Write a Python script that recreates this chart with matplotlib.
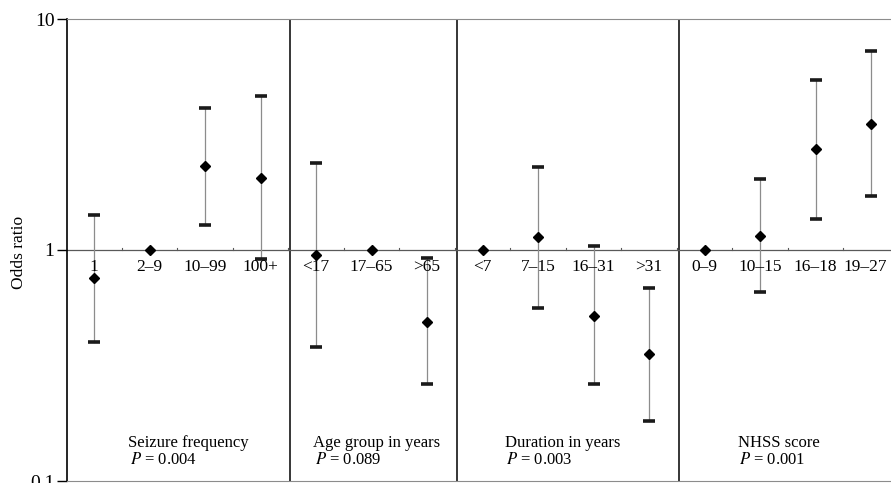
import numpy as np
import matplotlib
matplotlib.use("Agg")
import matplotlib.pyplot as plt

plt.rcParams['font.family'] = ['Liberation Serif', 'DejaVu Serif']
plt.rcParams['mathtext.fontset'] = 'stix'

# categories per group
groups = ["Seizure frequency", "Age group in years", "Duration in years", "NHSS score"]
p_values = ["0.004", "0.089", "0.003", "0.001"]
labels = [
    ["1", "2\u20139", "10\u201399", "100+"],
    ["<17", "17\u201365", ">65"],
    ["<7", "7\u201315", "16\u201331", ">31"],
    ["0\u20139", "10\u201315", "16\u201318", "19\u201327"],
]
# odds ratio and 95% CI (None = reference category)
odds = [
    [0.76, 1.0, 2.31, 2.05],
    [0.95, 1.0, 0.49],
    [1.0, 1.14, 0.52, 0.355],
    [1.0, 1.15, 2.74, 3.51],
]
lower = [
    [0.40, None, 1.28, 0.91],
    [0.38, None, 0.263],
    [None, 0.56, 0.263, 0.182],
    [None, 0.66, 1.36, 1.71],
]
upper = [
    [1.42, None, 4.12, 4.64],
    [2.38, None, 0.92],
    [None, 2.29, 1.04, 0.685],
    [None, 2.03, 5.44, 7.27],
]
# where the group caption starts, relative to the first category
title_off = [0.61, -0.05, 0.4, 0.6]

fig = plt.figure(figsize=(8.91, 4.83), dpi=100)
ax = fig.add_axes([67 / 891, 2 / 483, 1 - 67 / 891, 462 / 483])
ax.set_yscale('log')
ax.set_ylim(0.1, 10)
ax.set_xlim(-0.487, 14.36)

idx = 0
for g, labs in enumerate(labels):
    xs = np.arange(idx, idx + len(labs))
    for i, x in enumerate(xs):
        lo, hi = lower[g][i], upper[g][i]
        if lo is not None:
            ax.plot([x, x], [lo, hi], color='0.55', lw=0.9, zorder=2)
            ax.plot([x, x], [lo, hi], ls='none', marker='_', ms=9, mew=2.6,
                    color='0.1', zorder=3)
        ax.plot(x, odds[g][i], marker='D', ms=5.5, color='black', zorder=4)
        lx = x - 0.1 if (g == len(labels) - 1 and i == len(labs) - 1) else x
        ax.text(lx, 0.915, labs[i], ha='center', va='top', fontsize=12.5)
    tx = xs[0] + title_off[g]
    ax.text(tx, 0.146, groups[g], ha='left', va='center', fontsize=12)
    ax.text(tx + 0.03, 0.123, r"$P$ = " + p_values[g], ha='left', va='center',
            fontsize=12)
    idx += len(labs)
    if g < len(labels) - 1:
        ax.axvline(idx - 0.465, color='black', lw=1.1, zorder=1)

ax.axhline(1.0, color='0.35', lw=0.9, zorder=1)
# small ticks on the reference line between categories
for x in np.arange(0.5, 14.5, 1.0):
    ax.plot([x, x], [1.0, 1.025], color='0.35', lw=0.8)

ax.set_yticks([0.1, 1, 10])
ax.set_yticklabels(["0.1", "1", "10"], fontsize=14)
ax.yaxis.set_minor_locator(matplotlib.ticker.NullLocator())
ax.tick_params(axis='y', length=7, width=1, pad=2)
ax.set_xticks([])
fig.text(19 / 891, 1 - 252 / 483, "Odds ratio", rotation=90, ha='center',
         va='center', fontsize=12.5)

ax.spines['right'].set_visible(False)
ax.spines['left'].set_linewidth(1.2)
for s in ['top', 'bottom']:
    ax.spines[s].set_linestyle((0, (1, 1)))
    ax.spines[s].set_color('0.55')
    ax.spines[s].set_linewidth(0.8)

fig.savefig("out.png", dpi=100)
